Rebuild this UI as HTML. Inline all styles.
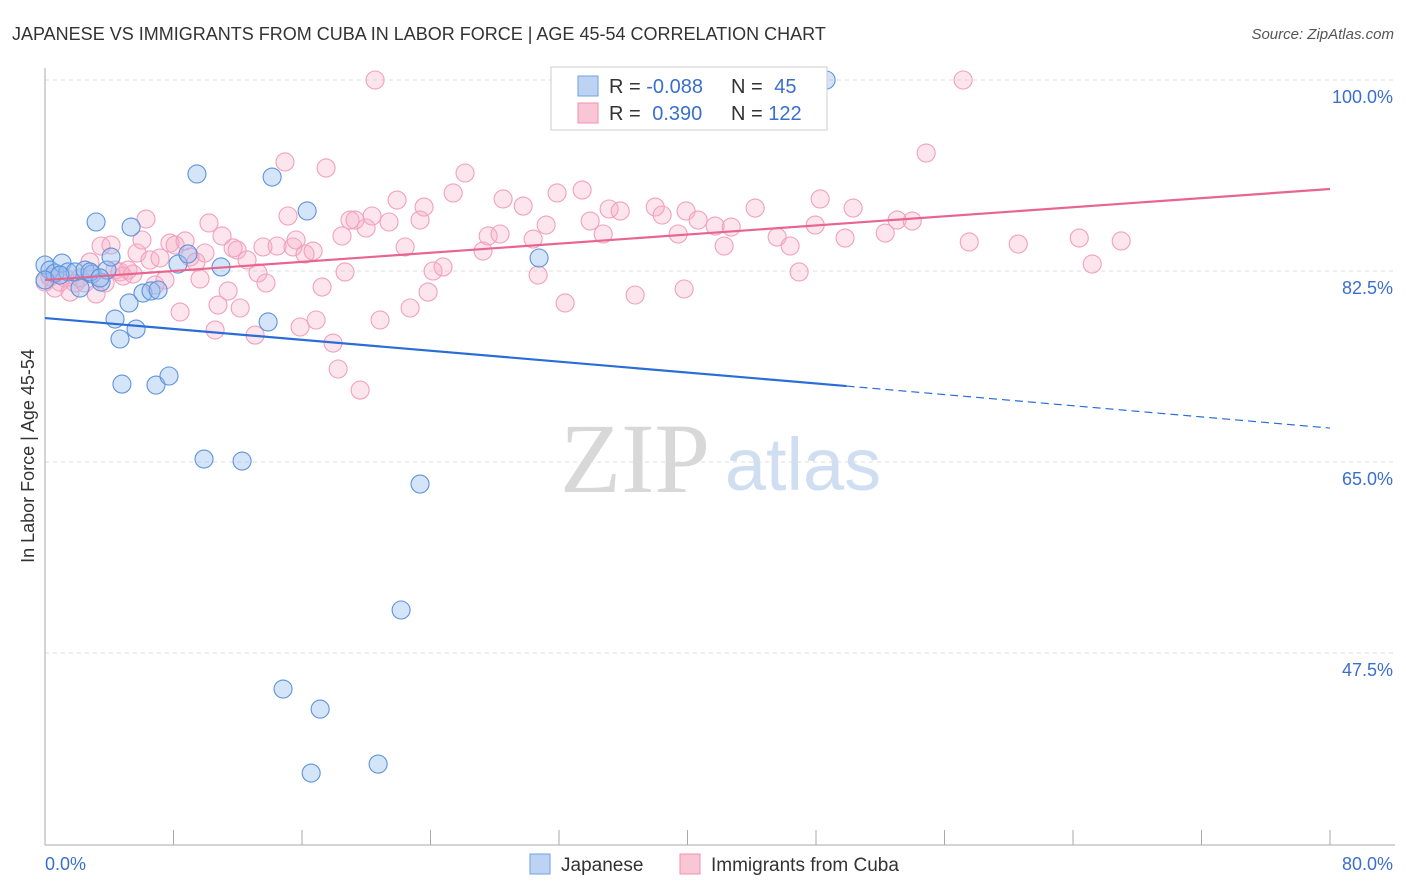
<!DOCTYPE html>
<html><head><meta charset="utf-8"><style>
body{margin:0;background:#fff;font-family:"Liberation Sans",sans-serif}
svg{display:block}
</style></head><body>
<svg id="chart" width="1406" height="892" viewBox="0 0 1406 892" xmlns="http://www.w3.org/2000/svg">
<text x="12" y="40" font-size="18" fill="#333">JAPANESE VS IMMIGRANTS FROM CUBA IN LABOR FORCE | AGE 45-54 CORRELATION CHART</text>
<text x="1394" y="39" font-size="15" fill="#555" text-anchor="end" font-style="italic">Source: ZipAtlas.com</text>
<g>
<text x="635" y="492" font-size="100" fill="#d8d8d8" font-family="Liberation Serif" text-anchor="middle">ZIP</text>
<text x="803" y="490" font-size="74" fill="#d0def2" text-anchor="middle">atlas</text>
</g>
<g id="grid"></g>
<g id="axes"></g>
<g id="pts"></g>
<g id="trends"></g>
<text transform="translate(34,456) rotate(-90)" font-size="18" fill="#333" text-anchor="middle">In Labor Force | Age 45-54</text>
<text x="45" y="870" font-size="18" fill="#3a6fd0">0.0%</text>
<text x="1393" y="870" font-size="18" fill="#3a6fd0" text-anchor="end">80.0%</text>
<g>
<rect x="551" y="67" width="276" height="63" fill="#fff" stroke="#ccc"/>
<rect x="578" y="76" width="20" height="20" fill="#bcd3f3" stroke="#6fa0e0"/>
<rect x="578" y="103" width="20" height="20" fill="#f9c6d6" stroke="#f090b0"/>
<text x="609" y="93" font-size="20" fill="#333">R = <tspan fill="#3a6fd0">-0.088</tspan></text>
<text x="731" y="93" font-size="20" fill="#333">N = <tspan fill="#3a6fd0" dx="6">45</tspan></text>
<text x="609" y="120" font-size="20" fill="#333">R = <tspan fill="#3a6fd0" dx="6">0.390</tspan></text>
<text x="731" y="120" font-size="20" fill="#333">N = <tspan fill="#3a6fd0">122</tspan></text>
</g>
<g>
<rect x="530" y="854" width="20" height="20" fill="#bcd3f3" stroke="#6fa0e0"/>
<text x="561" y="871" font-size="19" fill="#333">Japanese</text>
<rect x="680" y="854" width="20" height="20" fill="#f9c6d6" stroke="#f090b0"/>
<text x="711" y="871" font-size="19" fill="#333">Immigrants from Cuba</text>
</g>
</svg>
<script>
const yTicks=[100,82.5,65,47.5];
const yTickLabels=["100.0%","82.5%","65.0%","47.5%"];
const xTicks=[0,8,16,24,32,40,48,56,64,72,80];
const japX=[0,0.31,0.62,1.06,1.43,1.87,2.18,2.49,2.93,3.18,3.49,3.86,4.11,4.36,4.67,4.79,5.23,5.36,5.67,6.10,6.60,6.91,7.04,7.72,8.28,8.90,9.46,9.90,10.96,12.27,13.89,14.14,14.82,16.32,16.57,17.13,20.74,22.17,23.35,30.76,48.63,0,0.93,2.80,3.42];
const japY=[83.05,82.59,82.31,83.23,82.41,82.41,80.94,82.59,82.22,86.99,81.49,82.59,83.78,78.10,76.27,72.14,79.57,86.53,77.18,80.48,80.67,72.05,80.76,72.88,83.14,84.06,91.39,65.27,82.87,65.09,77.83,91.11,44.20,88.00,36.50,42.36,37.32,51.44,62.98,83.69,100,81.67,82.13,82.41,81.86];
const cubX=[0,.31,.62,.93,1.25,1.56,1.87,2.18,2.49,2.80,3.18,3.49,3.74,4.11,4.36,4.67,4.86,5.17,5.48,5.73,6.04,6.29,6.54,6.85,7.16,7.47,7.78,8.10,8.41,8.72,9.03,9.40,9.65,9.96,10.21,10.59,10.77,11.02,11.40,11.71,11.96,12.15,12.58,13.08,13.26,13.57,13.76,14.45,14.94,15.13,15.44,15.63,15.88,16.19,16.69,16.88,17.25,17.50,17.93,18.25,18.49,18.68,18.99,19.30,19.62,19.99,20.36,20.55,20.86,21.42,21.92,22.42,22.73,23.35,23.60,23.85,24.16,24.78,25.41,26.15,27.27,27.59,28.33,28.52,29.77,30.39,30.70,31.20,31.88,32.38,33.44,33.94,34.75,35.12,35.81,36.74,37.99,38.42,39.42,39.79,39.91,40.66,41.72,42.28,42.72,44.21,45.58,46.39,46.95,47.95,48.26,49.81,50.31,52.31,53.05,53.99,54.86,57.16,57.54,60.59,64.39,65.20,67.00];
const cubY=[81.49,81.95,80.94,81.49,81.86,80.57,81.40,81.86,81.40,83.32,80.39,84.79,81.40,84.88,82.59,82.41,82.04,82.59,82.22,84.15,85.34,87.26,83.51,81.22,83.69,81.67,85.06,84.88,78.74,85.25,83.78,83.32,81.77,84.15,86.90,77.09,79.38,85.71,80.67,84.61,84.42,79.11,83.51,76.63,82.32,84.70,81.40,84.79,92.49,87.54,84.70,85.34,77.37,84.06,84.33,78.01,81.03,91.94,75.90,73.52,85.71,82.41,87.17,87.17,71.59,86.44,87.54,100,78.01,86.99,89.00,84.70,79.11,87.17,88.36,80.57,82.50,82.87,89.65,91.48,84.33,85.71,85.89,89.10,88.45,85.43,82.13,86.71,89.65,79.57,89.92,87.08,85.89,88.18,88.00,80.30,88.36,87.63,85.89,80.85,88.00,87.17,86.62,84.79,86.53,88.27,85.61,84.79,82.41,86.71,89.10,85.52,88.27,85.98,87.17,87.08,93.31,100,85.16,84.97,85.52,83.14,85.25];
const japTrend=[78.19,71.96,68.11];
const japTrendX=[0,49.9,80];
const cubTrend=[81.67,90.01];
const cubTrendX=[0,80];
const NS="http://www.w3.org/2000/svg";
const X=v=>45+v*(1285/80);
const Y=v=>80+(100-v)*(191/17.5);
function mk(tag,attrs,parent){const e=document.createElementNS(NS,tag);for(const k in attrs)e.setAttribute(k,attrs[k]);document.getElementById(parent).appendChild(e);return e;}
yTicks.forEach((t,i)=>{
  const l=mk('line',{x1:45,x2:1395,y1:Y(t),y2:Y(t),stroke:'#ddd','stroke-dasharray':'4,4'},'grid');
  
  
  const tx=mk('text',{x:1393,y:Y(t)+23,'font-size':18,fill:'#3a6fd0','text-anchor':'end'},'grid');
  tx.textContent=yTickLabels[i];
  
  
});
const ya=mk('line',{x1:45,x2:45,y1:68,y2:845,stroke:'#aaa'},'axes');


const xa=mk('line',{x1:45,x2:1395,y1:845,y2:845,stroke:'#aaa'},'axes');


xTicks.forEach(t=>{
  const l=mk('line',{x1:X(t),x2:X(t),y1:830,y2:845,stroke:'#aaa'},'axes');
  
  
});
cubX.forEach((v,i)=>{
  const c=mk('circle',{cx:X(v),cy:Y(cubY[i]),r:9,fill:'rgba(248,170,195,0.3)',stroke:'#f2a0bb','stroke-width':1.1},'pts');
  
  
});
japX.forEach((v,i)=>{
  const c=mk('circle',{cx:X(v),cy:Y(japY[i]),r:9,fill:'rgba(150,190,240,0.4)',stroke:'#5d92dc','stroke-width':1.1},'pts');
  
  
});
const jt=mk('line',{x1:X(japTrendX[0]),y1:Y(japTrend[0]),x2:X(japTrendX[1]),y2:Y(japTrend[1]),stroke:'#2a6dd6','stroke-width':2.2},'trends');


const jd=mk('line',{x1:X(japTrendX[1]),y1:Y(japTrend[1]),x2:X(japTrendX[2]),y2:Y(japTrend[2]),stroke:'#2a6dd6','stroke-width':1.2,'stroke-dasharray':'8,5'},'trends');


const ct=mk('line',{x1:X(cubTrendX[0]),y1:Y(cubTrend[0]),x2:X(cubTrendX[1]),y2:Y(cubTrend[1]),stroke:'#e8658f','stroke-width':2.2},'trends');


</script>
</body></html>
